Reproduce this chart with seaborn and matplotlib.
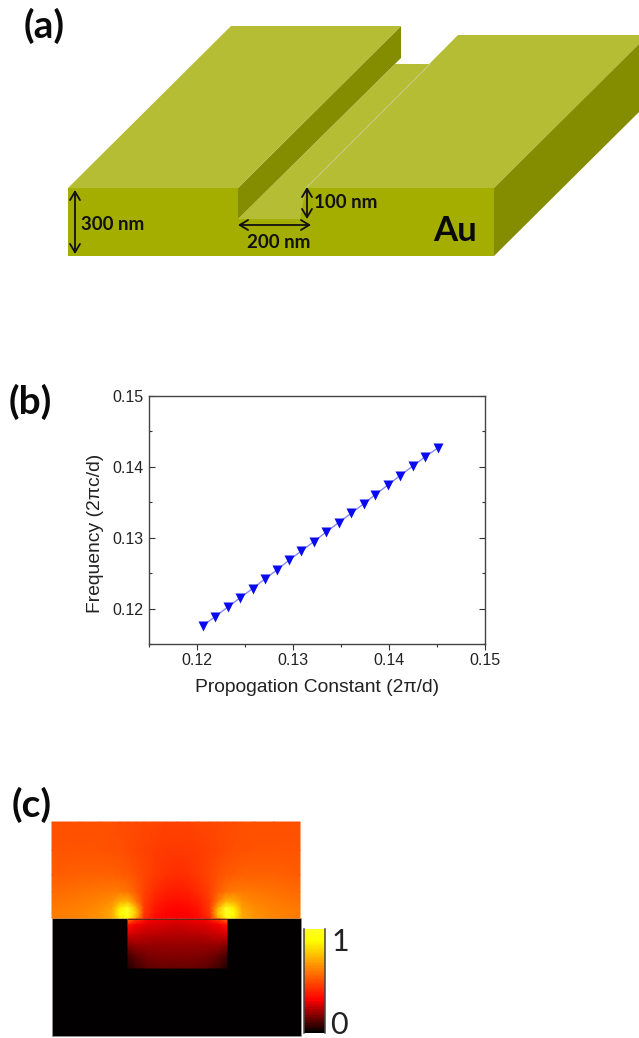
import numpy as np
import pandas as pd
import matplotlib
matplotlib.use("Agg")
import matplotlib.pyplot as plt
from matplotlib.colors import LinearSegmentedColormap
from matplotlib.patches import Polygon, Rectangle
from matplotlib.ticker import MultipleLocator
import seaborn as sns

W, H = 639, 1038

# ---- panel (b) data
propagation = [0.1206, 0.1219, 0.1232, 0.1245, 0.1258, 0.1271, 0.1284, 0.1296, 0.1309, 0.1322,
               0.1335, 0.1348, 0.1361, 0.1374, 0.1386, 0.1399, 0.1412, 0.1425, 0.1438, 0.1452]
frequency = [0.11755, 0.11887, 0.12019, 0.12151, 0.12282, 0.12419, 0.12551, 0.12682, 0.12814, 0.12946,
             0.13082, 0.13214, 0.13346, 0.13478, 0.13609, 0.13741, 0.13878, 0.14009, 0.14141, 0.14273]
ticks_b = [0.12, 0.13, 0.14, 0.15]

# ---- panel (a) schematic outlines
block_left_top = [(68, 188), (231, 26), (401, 26), (238, 188)]
trench_wall = [(238, 188), (401, 26), (401, 58), (238, 219)]
trench_floor = [(238, 219), (300, 219), (310, 188), (430, 64), (395, 64)]
block_right_top = [(306, 188), (458, 35), (639, 35), (639, 44), (494, 188)]
block_right_side = [(494, 188), (639, 44), (639, 112), (494, 256)]
front_face = [(68, 188), (238, 188), (238, 219), (300, 219), (306, 188), (494, 188), (494, 256), (68, 256)]
seam = [(306, 188), (430, 64)]
dimension_arrows = [((75, 190), (75, 254)), ((238, 225), (311, 225)), ((307, 187), (307, 219))]
dimension_labels = [("300 nm", 113, 224, 13.5), ("100 nm", 346, 202, 13.5), ("200 nm", 279, 243, 13.5)]
panel_labels = [("(a)", 44, 26), ("(b)", 30, 402), ("(c)", 32, 805)]

# ---- panel (c) field samples
air_x = [52, 80, 100, 112, 120, 128, 136, 144, 155, 166, 177,
         188, 199, 210, 218, 226, 234, 242, 254, 274, 300]
air_y = [822, 850, 875, 892, 902, 908, 913, 918]
air_half = [
    [.50, .50, .50, .50, .49, .49, .49, .48, .48, .47, .47],
    [.51, .51, .51, .50, .50, .49, .48, .47, .46, .45, .45],
    [.53, .54, .54, .54, .53, .52, .50, .48, .45, .43, .42],
    [.56, .58, .59, .60, .60, .58, .53, .47, .42, .39, .38],
    [.58, .60, .62, .65, .72, .74, .60, .46, .39, .36, .35],
    [.59, .61, .64, .68, .85, 1.0, .72, .46, .37, .34, .33],
    [.60, .62, .65, .70, .90, 1.0, .78, .45, .36, .33, .32],
    [.60, .62, .65, .70, .85, .95, .70, .42, .34, .32, .31],
]
trench_x = [128, 136, 148, 162, 177, 192, 206, 219, 227]
trench_y = [919, 925, 935, 945, 955, 968]
trench_half = [
    [.60, .45, .32, .30, .29],
    [.36, .31, .28, .27, .26],
    [.26, .25, .235, .23, .225],
    [.17, .19, .19, .19, .19],
    [.09, .13, .16, .165, .165],
    [.04, .08, .12, .13, .13],
]
cbar_levels = [round(1 - i / 63, 4) for i in range(64)]

# ---- colours
TOP = "#B5BD34"
SIDE = "#848C00"
FRONT = "#A4AE00"
field_cmap = LinearSegmentedColormap.from_list(
    "field", [(0, "#000000"), (0.32, "#ff0000"), (0.9, "#ffff00"), (1, "#ffff20")])

sns.set_theme(style="ticks")
plt.rcParams["font.family"] = ["Lato", "DejaVu Sans"]
fig = plt.figure(figsize=(W / 100, H / 100), dpi=100, facecolor="white")


def box(left, top, right, bottom):
    return [left / W, 1 - bottom / H, (right - left) / W, (bottom - top) / H]


# Canvas for panels (a) and (c), in picture pixels
cv = fig.add_axes([0, 0, 1, 1])
cv.set_xlim(0, W)
cv.set_ylim(H, 0)
cv.axis("off")

for pts, col in [(trench_floor, TOP), (trench_wall, SIDE), (block_left_top, TOP),
                 (block_right_top, TOP), (block_right_side, SIDE), (front_face, FRONT)]:
    cv.add_patch(Polygon(pts, closed=True, facecolor=col, edgecolor="none", zorder=2))
cv.plot(*zip(*seam), color="#C9CC8A", lw=0.7, zorder=3)
for a, b in dimension_arrows:
    cv.annotate("", xy=b, xytext=a, zorder=4,
                arrowprops=dict(arrowstyle="<->,head_length=0.5,head_width=0.3", color="#111111",
                                lw=1.3, shrinkA=0, shrinkB=0))
for txt, x, y, fs in dimension_labels:
    cv.text(x, y, txt, fontsize=fs, fontweight="bold", color="#111111", ha="center", va="center", zorder=5)
cv.text(455, 231, "Au", fontsize=25, fontweight="bold", color="#0a0a0a", ha="center", va="center", zorder=5)
for txt, x, y in panel_labels:
    cv.text(x, y, txt, fontsize=28, fontweight="bold", color="#0a0a0a", ha="center", va="center", zorder=5)

# Panel (c) field
cv.add_patch(Rectangle((52, 918), 248.5, 118, facecolor="#020000", edgecolor="#999999", lw=0.4, zorder=2))
air_vals = np.array([r + r[-2::-1] for r in air_half])
trench_vals = np.array([r + r[-2::-1] for r in trench_half])
cv.pcolormesh(air_x, air_y, air_vals, shading="gouraud", cmap=field_cmap, vmin=0, vmax=1, zorder=3)
cv.pcolormesh(trench_x, trench_y, trench_vals, shading="gouraud", cmap=field_cmap, vmin=0, vmax=1, zorder=3)
cv.plot([128, 227], [918.5, 918.5], color="#5a2a14", lw=0.7, zorder=4)

# Colour bar
cb = fig.add_axes(box(304, 929, 325, 1033))
sns.heatmap(np.array(cbar_levels).reshape(-1, 1), ax=cb, cmap=field_cmap, vmin=0, vmax=1, cbar=False,
            xticklabels=False, yticklabels=False)
cb.tick_params(length=0)
for side in ("left", "right"):
    cb.spines[side].set_visible(True)
    cb.spines[side].set_color("#444444")
    cb.spines[side].set_linewidth(1.1)
cv.text(340, 942, "1", fontsize=22, color="#222222", ha="center", va="center", zorder=5)
cv.text(339, 1025, "0", fontsize=22, color="#222222", ha="center", va="center", zorder=5)

# Panel (b)
ax = fig.add_axes(box(149, 396, 484.5, 644))
df = pd.DataFrame({"propagation": propagation, "frequency": frequency})
sns.lineplot(data=df, x="propagation", y="frequency", ax=ax, color="#8A8AF2", lw=1.0, zorder=2)
sns.scatterplot(data=df, x="propagation", y="frequency", ax=ax, color="#0A0AF0", marker="v",
                s=52, linewidth=0, zorder=3)
ax.set_xlim(0.115, 0.15)
ax.set_ylim(0.115, 0.15)
ax.set_xticks(ticks_b)
ax.set_yticks(ticks_b)
ax.set_xticklabels([f"{t:.2f}" for t in ticks_b])
ax.set_yticklabels([f"{t:.2f}" for t in ticks_b])
ax.xaxis.set_minor_locator(MultipleLocator(0.005))
ax.yaxis.set_minor_locator(MultipleLocator(0.005))
ax.tick_params(which="major", direction="in", top=True, right=True, length=4.5, width=0.8,
               color="#333333", labelcolor="#222222", pad=4)
ax.tick_params(which="minor", direction="in", top=True, right=True, length=2.5, width=0.8, color="#333333")
ax.tick_params(axis="x", which="major", direction="out", top=False, bottom=True, length=4, pad=2.5)
ax.tick_params(axis="x", which="minor", direction="out", top=False, bottom=True, length=2.5)
for tx in [0.12, 0.13, 0.14, 0.15]:
    pass
for label in ax.get_xticklabels() + ax.get_yticklabels():
    label.set_fontfamily("Liberation Sans")
    label.set_fontsize(11.5)
for spine in ax.spines.values():
    spine.set_visible(True)
    spine.set_color("#444444")
    spine.set_linewidth(1.0)
ax.set_xlabel("")
ax.set_ylabel("")
cv.text(317, 687, "Propogation Constant (2\u03c0/d)", fontsize=13.9, family="Liberation Sans",
        color="#222222", ha="center", va="center")
cv.text(96, 533, "Frequency (2\u03c0c/d)", fontsize=13.9, family="Liberation Sans", rotation=90,
        color="#222222", ha="center", va="center")

fig.savefig("out.png", dpi=100, facecolor="white")
